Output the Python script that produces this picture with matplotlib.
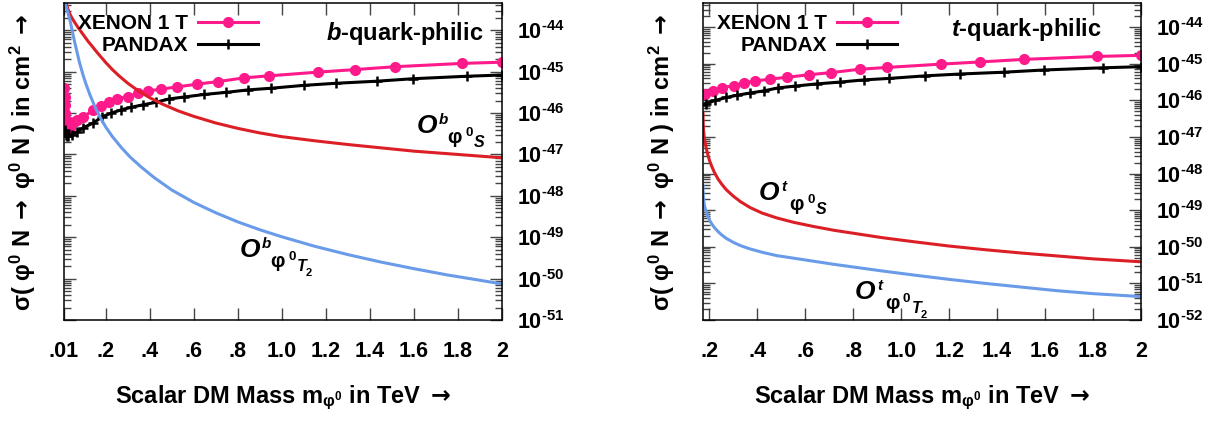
import numpy as np
import matplotlib
matplotlib.use('Agg')
import matplotlib.pyplot as plt
from matplotlib.ticker import FixedLocator, NullFormatter, FuncFormatter

plt.rcParams['font.family'] = ['Liberation Sans', 'DejaVu Sans']
plt.rcParams['font.weight'] = 'bold'
plt.rcParams['mathtext.fontset'] = 'custom'
plt.rcParams['mathtext.rm'] = 'Liberation Sans:bold'
plt.rcParams['mathtext.it'] = 'Liberation Sans:bold:italic'
plt.rcParams['mathtext.bf'] = 'Liberation Sans:bold'
plt.rcParams['mathtext.sf'] = 'DejaVu Sans:bold'   # only used for the arrows
plt.rcParams['mathtext.default'] = 'rm'

# direct detection limits, mass in TeV, log10(sigma / cm^2)
xenon_mass = [0.0109, 0.0123, 0.0145, 0.0168, 0.0191, 0.0236, 0.030, 0.0373, 0.0554, 0.069,
              0.096, 0.142, 0.18, 0.215, 0.253, 0.302, 0.345, 0.39, 0.452, 0.522,
              0.615, 0.709, 0.826, 0.942, 1.165, 1.33, 1.512, 1.818, 2.0]
xenon_logsig = [-45.40, -45.61, -45.81, -46.00, -46.17, -46.31, -46.41, -46.36, -46.22, -46.17,
                -46.10, -45.93, -45.83, -45.74, -45.65, -45.60, -45.52, -45.47, -45.42, -45.37,
                -45.30, -45.24, -45.15, -45.10, -45.01, -44.95, -44.88, -44.80, -44.77]

pandax_mass = [0.0123, 0.0145, 0.0191, 0.0236, 0.030, 0.045, 0.069, 0.096, 0.142, 0.184,
               0.225, 0.271, 0.315, 0.369, 0.427, 0.486, 0.557, 0.647, 0.745, 0.845,
               0.95, 1.10, 1.245, 1.43, 1.595, 1.84, 2.0]
pandax_logsig = [-46.40, -46.46, -46.52, -46.55, -46.55, -46.52, -46.46, -46.36, -46.24, -46.09,
                 -46.00, -45.92, -45.86, -45.80, -45.74, -45.66, -45.61, -45.55, -45.50, -45.44,
                 -45.40, -45.33, -45.28, -45.23, -45.17, -45.11, -45.08]

# b-quark-philic operators
bS_mass = [0.019, 0.025, 0.03, 0.037, 0.048, 0.06, 0.075, 0.09, 0.105, 0.12,
           0.137, 0.155, 0.174, 0.2, 0.23, 0.26, 0.3, 0.35, 0.4, 0.46,
           0.53, 0.6, 0.7, 0.8, 0.9, 1.0, 1.15, 1.3, 1.45, 1.6,
           1.75, 1.9, 2.0]
bS_logsig = [-43.32, -43.44, -43.52, -43.61, -43.72, -43.82, -43.94, -44.05, -44.16, -44.27,
             -44.38, -44.50, -44.62, -44.78, -44.95, -45.10, -45.28, -45.47, -45.63, -45.79,
             -45.95, -46.08, -46.24, -46.37, -46.48, -46.57, -46.67, -46.76, -46.84, -46.92,
             -46.98, -47.04, -47.08]

bT_mass = [0.0145, 0.02, 0.027, 0.037, 0.045, 0.052, 0.06, 0.068, 0.08, 0.096,
           0.11, 0.128, 0.15, 0.174, 0.2, 0.23, 0.27, 0.31, 0.36, 0.42,
           0.5, 0.6, 0.7, 0.8, 0.9, 1.0, 1.15, 1.3, 1.45, 1.6,
           1.75, 1.9, 2.0]
bT_logsig = [-43.34, -43.44, -43.56, -43.75, -43.95, -44.13, -44.32, -44.50, -44.77, -45.07,
             -45.30, -45.56, -45.84, -46.10, -46.34, -46.57, -46.83, -47.06, -47.30, -47.56,
             -47.86, -48.16, -48.41, -48.63, -48.82, -48.99, -49.22, -49.42, -49.60, -49.76,
             -49.91, -50.04, -50.13]

# t-quark-philic operators
tS_mass = [0.173, 0.1735, 0.175, 0.178, 0.182, 0.187, 0.193, 0.2, 0.21, 0.22,
           0.235, 0.25, 0.27, 0.3, 0.33, 0.37, 0.42, 0.48, 0.55, 0.63,
           0.72, 0.82, 0.92, 1.05, 1.2, 1.35, 1.5, 1.65, 1.8, 1.9, 2.0]
tS_logsig = [-46.35, -46.55, -46.80, -47.00, -47.16, -47.32, -47.48, -47.64, -47.81, -47.96,
             -48.14, -48.28, -48.44, -48.62, -48.77, -48.93, -49.08, -49.21, -49.33, -49.44,
             -49.55, -49.65, -49.75, -49.86, -49.98, -50.08, -50.17, -50.25, -50.33, -50.37, -50.41]

tT_mass = [0.173, 0.1735, 0.175, 0.178, 0.182, 0.187, 0.193, 0.2, 0.21, 0.22,
           0.235, 0.25, 0.27, 0.3, 0.33, 0.37, 0.42, 0.48, 0.55, 0.63,
           0.72, 0.82, 0.92, 1.05, 1.2, 1.35, 1.5, 1.65, 1.8, 1.9, 2.0]
tT_logsig = [-48.34, -48.50, -48.68, -48.84, -48.95, -49.06, -49.17, -49.27, -49.38, -49.47,
             -49.58, -49.67, -49.77, -49.88, -49.97, -50.06, -50.15, -50.24, -50.31, -50.39,
             -50.48, -50.57, -50.66, -50.77, -50.89, -51.00, -51.10, -51.20, -51.28, -51.32, -51.36]

b_xticks = [0.01, 0.2, 0.4, 0.6, 0.8, 1.0, 1.2, 1.4, 1.6, 1.8, 2.0]
b_xlabels = ['.01', '.2', '.4', '.6', '.8', '1.0', '1.2', '1.4', '1.6', '1.8', '2']
t_xticks = [0.2, 0.4, 0.6, 0.8, 1.0, 1.2, 1.4, 1.6, 1.8, 2.0]
t_xlabels = ['.2', '.4', '.6', '.8', '1.0', '1.2', '1.4', '1.6', '1.8', '2']

PINK = '#ff1a8c'
RED = '#dc1f26'
BLUE = '#6a9be9'
W, H = 1219, 423
YTOP = 10 ** -43.34
ARROW = r'$\mathsf{\rightarrow}$'


def ylab(v, pos):
    e = int(round(np.log10(v)))
    return r'$10^{\text{%d}}$' % e


def note(ax, m, logsig, quark, sub):
    # O^q followed by phi^0 with S / T2 below, offsets in pixels from the O
    pieces = [('O', 19, 0, 0, 'italic'), (quark, 11, 22, 9, 'italic'),
              ('φ', 14.5, 30, -10, 'normal'), ('0', 9.5, 48, -3, 'normal'),
              (sub, 11.5, 57, -14, 'italic')]
    if sub == 'T':
        pieces.append(('2', 8, 66, -19, 'normal'))
    for s, fs, dx, dy, st in pieces:
        ax.annotate(s, xy=(m, 10 ** logsig), xytext=(dx * 0.72, dy * 0.72),
                    textcoords='offset points', ha='left', va='baseline',
                    fontsize=fs, style=st)


def panel(left, xmin, ymin, xticks, xlabels, quark, curves, notes, title_x, title_y):
    ax = fig.add_axes([left / W, 1 - 320 / H, 438 / W, 317 / H])
    ax.plot(xenon_mass, 10 ** np.array(xenon_logsig), '-o', color=PINK, lw=2.2, ms=7,
            label='XENON 1 T')
    ax.plot(pandax_mass, 10 ** np.array(pandax_logsig), '-+', color='black', lw=2.2, ms=7,
            mew=1.8, label='PANDAX')
    for m, s, c in curves:
        ax.plot(m, 10 ** np.array(s), '-', color=c, lw=2.2)

    ax.set_yscale('log')
    ax.set_xlim(xmin, 2.0)
    ax.set_ylim(ymin, YTOP)
    ax.xaxis.set_major_locator(FixedLocator(xticks))
    ax.set_xticklabels(xlabels)
    e0 = int(round(np.log10(ymin)))
    major = [10.0 ** e for e in range(e0, -43)]
    minor = [k * 10.0 ** e for e in range(e0, -43) for k in range(2, 10) if k * 10.0 ** e < YTOP]
    ax.yaxis.set_major_locator(FixedLocator(major))
    ax.yaxis.set_minor_locator(FixedLocator(minor))
    ax.yaxis.set_major_formatter(FuncFormatter(ylab))
    ax.yaxis.set_minor_formatter(NullFormatter())
    ax.tick_params(which='both', direction='in', top=True, right=True, color='#444444', width=1.0)
    ax.tick_params(which='major', length=8.5)
    ax.tick_params(which='minor', length=5, labelleft=False, labelright=False)
    ax.tick_params(axis='x', labelsize=15.5, pad=15)
    ax.tick_params(axis='y', which='major', labelleft=False, labelright=True, labelsize=15.5, pad=11)
    for sp in ax.spines.values():
        sp.set_linewidth(1.1)

    ax.legend(loc='upper right', bbox_to_anchor=(0.443, 0.965), frameon=False, fontsize=15,
              markerfirst=False, handlelength=2.9, handletextpad=0.45, labelspacing=0.15,
              borderpad=0, borderaxespad=0, numpoints=1)
    ax.text(title_x, title_y, r'$\mathit{%s}$-quark-philic' % quark, transform=ax.transAxes,
            ha='right', va='center', fontsize=17)
    for nx, ny, sub in notes:
        note(ax, nx, ny, quark, sub)

    cx = left + 219
    fig.text(cx / W, 1 - 398 / H, r'Scalar DM Mass m$_{\varphi^{0}}$ in TeV ' + ARROW,
             ha='center', va='center', fontsize=17)
    fig.text((left - 41) / W, 1 - 162 / H,
             r'σ( φ$^{0}$ N ' + ARROW + r' φ$^{0}$ N ) in cm$^{2}$ ' + ARROW,
             ha='center', va='center', rotation=90, fontsize=17)
    return ax


fig = plt.figure(figsize=(W / 100, H / 100), dpi=100)

panel(64, 0.01, 1e-51, b_xticks, b_xlabels, 'b',
      [(bS_mass, bS_logsig, RED), (bT_mass, bT_logsig, BLUE)],
      [(1.614, -46.48, 'S'), (0.81, -49.48, 'T')],
      0.957, 0.905)
panel(703, 0.173, 1e-52, t_xticks, t_xlabels, 't',
      [(tS_mass, tS_logsig, RED), (tT_mass, tT_logsig, BLUE)],
      [(0.407, -48.72, 'S'), (0.807, -51.43, 'T')],
      0.911, 0.915)

fig.savefig('out.png', dpi=100)
